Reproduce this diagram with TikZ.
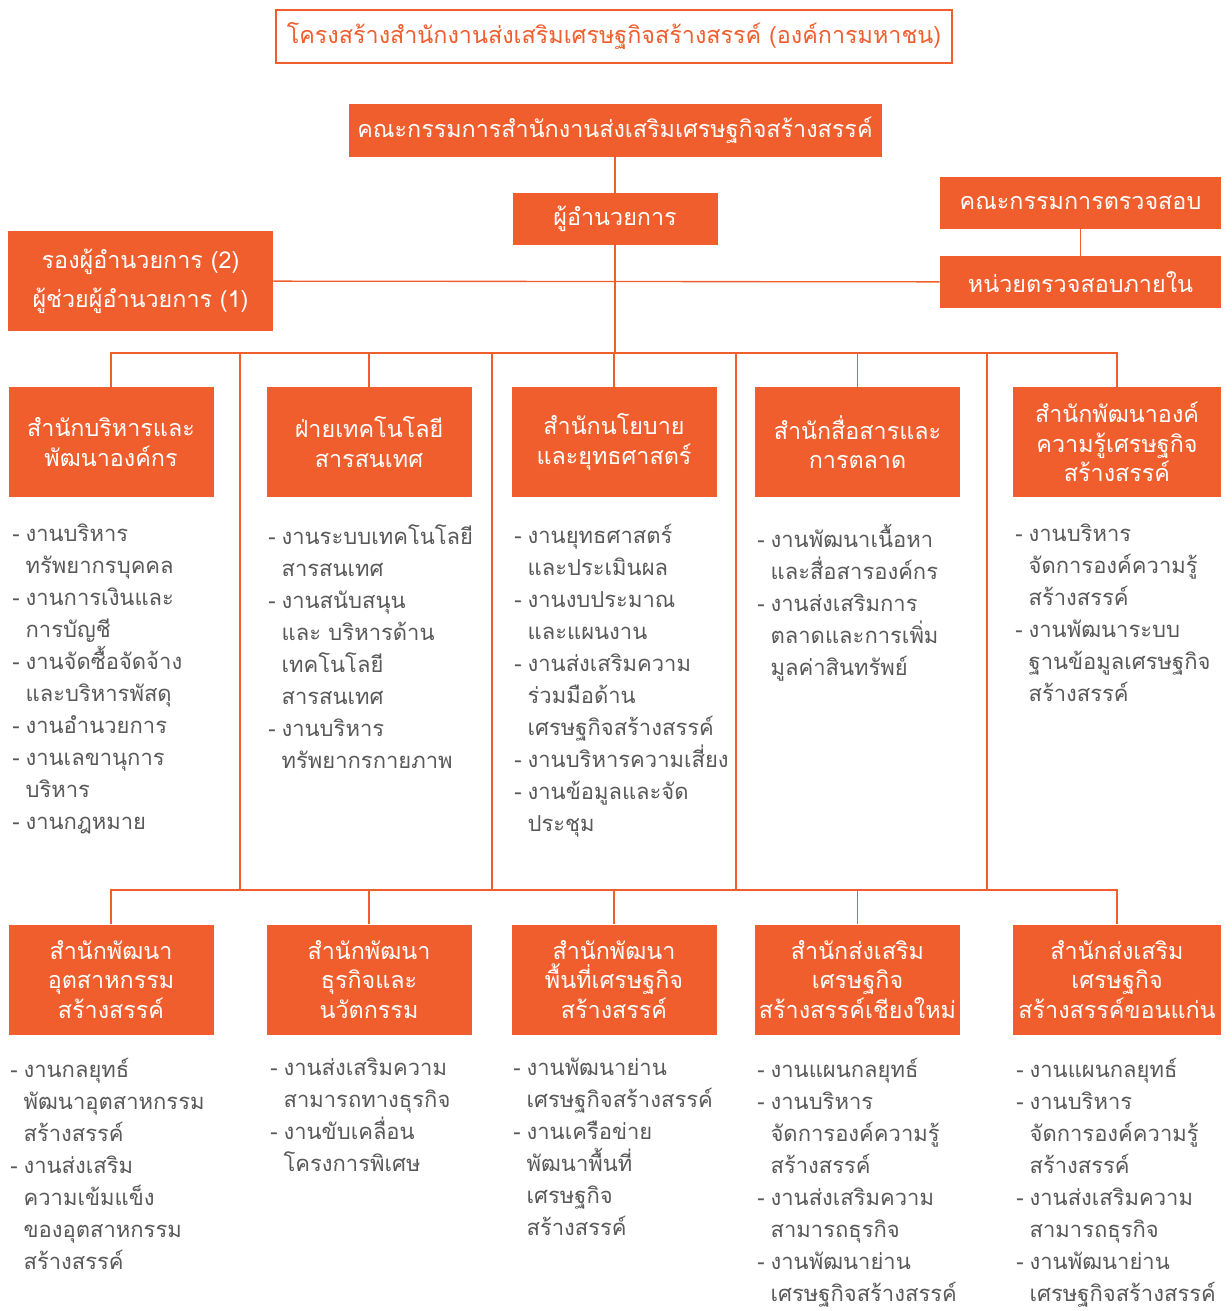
\documentclass[tikz,border=0pt]{standalone}
\usepackage{fontspec}
\setmainfont{Loma}[Script=Thai]
\usetikzlibrary{positioning}
\definecolor{orgorange}{HTML}{F05E2D}
\definecolor{listgray}{HTML}{595959}
\newcommand{\lsitem}{\makebox[10pt][l]{-}}
\newcommand{\lscont}{\hspace*{10pt}}
\tikzset{
  unitbox/.style={fill=orgorange, text=white, align=center, inner sep=0pt,
    minimum width=153.75pt, minimum height=82.5pt, font=\fontsize{17.5}{22}\selectfont},
  headbox/.style={fill=orgorange, text=white, align=center, inner sep=0pt,
    minimum height=39pt, font=\fontsize{17.5}{29}\selectfont},
  tasklist/.style={anchor=north west, align=left, inner sep=0pt, text=listgray,
    font=\fontsize{16.5}{24}\selectfont},
  link/.style={draw=orgorange, line width=1pt},
}
\begin{document}
\begin{tikzpicture}[x=0.75pt, y=-0.75pt]
\useasboundingbox (0,0) rectangle (1232,1311);
% title
\node[draw=orgorange, line width=1.5pt, text=orgorange, minimum width=507pt, minimum height=39.75pt,
  inner sep=0pt, font=\fontsize{17.5}{24}\selectfont] (title) at (614,36.5)
  {โครงสร้างสำนักงานส่งเสริมเศรษฐกิจสร้างสรรค์ (องค์การมหาชน)};
% top level
\node[headbox, minimum width=399.75pt, minimum height=39.75pt] (board) at (615,130)
  {คณะกรรมการสำนักงานส่งเสริมเศรษฐกิจสร้างสรรค์};
\node[headbox, minimum width=153.75pt] (dir) at (615,219) {ผู้อำนวยการ};
\node[headbox, minimum width=210.75pt] (audit) at (1080.5,203) {คณะกรรมการตรวจสอบ};
\node[headbox, minimum width=210.75pt] (inaudit) at (1080.5,282) {หน่วยตรวจสอบภายใน};
\node[headbox, minimum width=198.75pt, minimum height=75pt] (deputy) at (140.5,281)
  {รองผู้อำนวยการ (2)\\ผู้ช่วยผู้อำนวยการ (1)};
% first row of units
\node[unitbox] (ua) at (111,442) {สำนักบริหารและ\\พัฒนาองค์กร};
\node[unitbox] (ub) at (369,442) {ฝ่ายเทคโนโลยี\\สารสนเทศ};
\node[unitbox] (uc) at (614,442) {สำนักนโยบาย\\และยุทธศาสตร์};
\node[unitbox] (ud) at (857.5,442) {สำนักสื่อสารและ\\การตลาด};
\node[unitbox, minimum width=156pt] (ue) at (1117,442) {สำนักพัฒนาองค์\\ความรู้เศรษฐกิจ\\สร้างสรรค์};
% second row of units
\node[unitbox] (la) at (111,979.5) {สำนักพัฒนา\\อุตสาหกรรม\\สร้างสรรค์};
\node[unitbox] (lb) at (369,979.5) {สำนักพัฒนา\\ธุรกิจและ\\นวัตกรรม};
\node[unitbox] (lc) at (614,979.5) {สำนักพัฒนา\\พื้นที่เศรษฐกิจ\\สร้างสรรค์};
\node[unitbox] (ld) at (857.5,979.5) {สำนักส่งเสริม\\เศรษฐกิจ\\สร้างสรรค์เชียงใหม่};
\node[unitbox, minimum width=156pt] (le) at (1117,979.5) {สำนักส่งเสริม\\เศรษฐกิจ\\สร้างสรรค์ขอนแก่น};
% task lists
\node[tasklist] (ta) at (12,524) {\lsitem งานบริหาร\\\lscont ทรัพยากรบุคคล\\\lsitem งานการเงินและ\\\lscont การบัญชี\\\lsitem งานจัดซื้อจัดจ้าง\\\lscont และบริหารพัสดุ\\\lsitem งานอำนวยการ\\\lsitem งานเลขานุการ\\\lscont บริหาร\\\lsitem งานกฎหมาย};
\node[tasklist] (tb) at (268,524) {\lsitem งานระบบเทคโนโลยี\\\lscont สารสนเทศ\\\lsitem งานสนับสนุน\\\lscont และ บริหารด้าน\\\lscont เทคโนโลยี\\\lscont สารสนเทศ\\\lsitem งานบริหาร\\\lscont ทรัพยากรกายภาพ};
\node[tasklist] (tc) at (514,524) {\lsitem งานยุทธศาสตร์\\\lscont และประเมินผล\\\lsitem งานงบประมาณ\\\lscont และแผนงาน\\\lsitem งานส่งเสริมความ\\\lscont ร่วมมือด้าน\\\lscont เศรษฐกิจสร้างสรรค์\\\lsitem งานบริหารความเสี่ยง\\\lsitem งานข้อมูลและจัด\\\lscont ประชุม};
\node[tasklist] (td) at (757,524) {\lsitem งานพัฒนาเนื้อหา\\\lscont และสื่อสารองค์กร\\\lsitem งานส่งเสริมการ\\\lscont ตลาดและการเพิ่ม\\\lscont มูลค่าสินทรัพย์};
\node[tasklist] (te) at (1015,524) {\lsitem งานบริหาร\\\lscont จัดการองค์ความรู้\\\lscont สร้างสรรค์\\\lsitem งานพัฒนาระบบ\\\lscont ฐานข้อมูลเศรษฐกิจ\\\lscont สร้างสรรค์};
\node[tasklist] (sa) at (10,1058) {\lsitem งานกลยุทธ์\\\lscont พัฒนาอุตสาหกรรม\\\lscont สร้างสรรค์\\\lsitem งานส่งเสริม\\\lscont ความเข้มแข็ง\\\lscont ของอุตสาหกรรม\\\lscont สร้างสรรค์};
\node[tasklist] (sb) at (270,1058) {\lsitem งานส่งเสริมความ\\\lscont สามารถทางธุรกิจ\\\lsitem งานขับเคลื่อน\\\lscont โครงการพิเศษ};
\node[tasklist] (sc) at (513,1058) {\lsitem งานพัฒนาย่าน\\\lscont เศรษฐกิจสร้างสรรค์\\\lsitem งานเครือข่าย\\\lscont พัฒนาพื้นที่\\\lscont เศรษฐกิจ\\\lscont สร้างสรรค์};
\node[tasklist] (sd) at (757,1058) {\lsitem งานแผนกลยุทธ์\\\lsitem งานบริหาร\\\lscont จัดการองค์ความรู้\\\lscont สร้างสรรค์\\\lsitem งานส่งเสริมความ\\\lscont สามารถธุรกิจ\\\lsitem งานพัฒนาย่าน\\\lscont เศรษฐกิจสร้างสรรค์};
\node[tasklist] (se) at (1016,1058) {\lsitem งานแผนกลยุทธ์\\\lsitem งานบริหาร\\\lscont จัดการองค์ความรู้\\\lscont สร้างสรรค์\\\lsitem งานส่งเสริมความ\\\lscont สามารถธุรกิจ\\\lsitem งานพัฒนาย่าน\\\lscont เศรษฐกิจสร้างสรรค์};
% connectors
\coordinate (busup) at (615,353);
\coordinate (buslow) at (615,890);
\draw[link] (board) -- (dir);
\draw[link] (dir) -- (busup);
\draw[link] (deputy) -- (inaudit);
\draw[link] (audit) -- (inaudit);
\foreach \u in {ua,ub,uc,ud,ue}
  \draw[link] (busup) -| (\u.north);
\foreach \u in {la,lb,lc,ld,le}
  \draw[link] (buslow) -| (\u.north);
\foreach \x [count=\i] in {240,492,736,987} {
  \coordinate (vt\i) at (\x,353);
  \coordinate (vb\i) at (\x,890);
  \draw[link] (vt\i) -- (vb\i);
}
\end{tikzpicture}
\end{document}
